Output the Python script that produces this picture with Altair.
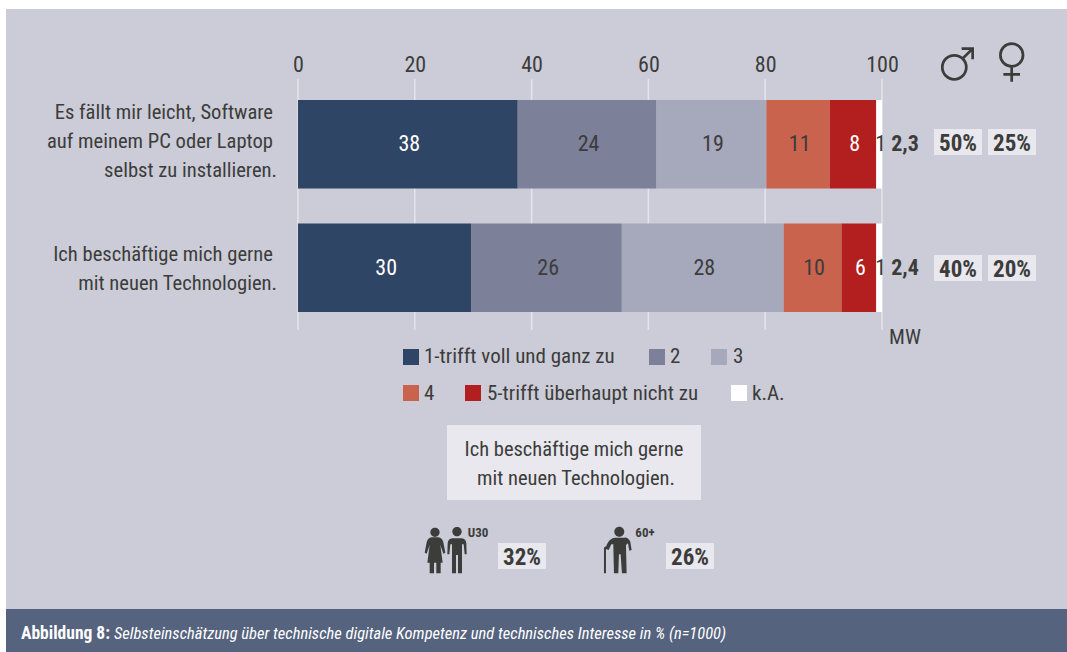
import altair as alt
import pandas as pd

# Survey answers per statement, in percent as published
statements = ["Software", "Technologien"]
levels = ["1-trifft voll und ganz zu", "2", "3", "4", "5-trifft überhaupt nicht zu", "k.A."]
software_values = [38, 24, 19, 11, 8, 1]
technology_values = [30, 26, 28, 10, 6, 1]
level_colors = ["#2f4565", "#7c8099", "#a6a8bb", "#c9634e", "#b31e1e", "#ffffff"]
label_colors = ["#ffffff", "#3c3c3b", "#3c3c3b", "#3c3c3b", "#ffffff", "#3c3c3b"]
axis_ticks = [0, 0.2, 0.4, 0.6, 0.8, 1.0]

FONT = "Roboto Condensed"
INK = "#3c3c3b"
PANEL = "#cbccd7"
BOX = "#e8e8ee"
CAPTION = "#55637e"
LEFT, TOP, PLOT_W, PLOT_H = 298, 79, 584, 251
W, H = 1067, 652

rows = []
for statement, values in zip(statements, [software_values, technology_values]):
    for rank, (level, value) in enumerate(zip(levels, values)):
        rows.append({"statement": statement, "level": level, "rank": rank,
                     "value": value, "ink": label_colors[rank]})
answers = pd.DataFrame(rows)

share_scale = alt.Scale(domain=[0, 1], nice=False)
y_enc = alt.Y("statement:N", sort=statements, axis=None,
              scale=alt.Scale(range=[21, 233], paddingInner=0.283, paddingOuter=0))


def box(x0, y0, x1, y1, color):
    """Plain rectangle given in canvas pixels."""
    return alt.Chart(pd.DataFrame({"k": [0]})).mark_rect(color=color).encode(
        x=alt.value(x0 - LEFT), x2=alt.value(x1 - LEFT),
        y=alt.value(y0 - TOP), y2=alt.value(y1 - TOP))


def note(text, x, y, size=20.6, align="center", weight="normal", color=INK, style="normal"):
    """Single line of text anchored in canvas pixels."""
    return alt.Chart(pd.DataFrame({"t": [text]})).mark_text(
        font=FONT, fontSize=size, align=align, baseline="middle",
        fontWeight=weight, fontStyle=style, color=color).encode(
        text="t:N", x=alt.value(x - LEFT), y=alt.value(y + 1 - TOP))


def glyph(path, x, y, scale=1 / 3, stroke=None, width=2.7):
    """Custom symbol; path units are scaled down to canvas pixels."""
    style = dict(shape=path, size=(2 * scale) ** 2, opacity=1)
    if stroke:
        style.update(filled=False, stroke=stroke, strokeWidth=width)
    else:
        style.update(filled=True, fill=INK, strokeWidth=0)
    return alt.Chart(pd.DataFrame({"k": [0]})).mark_point(**style).encode(
        x=alt.value(x - LEFT), y=alt.value(y - TOP))


def circle(cy, r):
    return f"M{-r},{cy} A{r},{r} 0 1,1 {r},{cy} A{r},{r} 0 1,1 {-r},{cy} Z "


MALE = circle(0, 36) + "M26,-27 L55,-56 M22,-56 L55,-56 L55,-24"
FEMALE = circle(0, 34) + "M0,34 L0,80 M-25,58 L25,58"
WOMAN = (circle(-58, 14) + "M-10,-43 L10,-43 Q22,-42 25,-28 L31,3 L25,6 L16,-20 L23,33 L17,33 "
         "L17,65 L4,65 L4,33 L-3,33 L-3,65 L-16,65 L-16,33 L-23,33 L-16,-20 L-25,6 L-31,3 "
         "L-25,-28 Q-22,-42 -10,-43 Z")
MAN = (circle(-60, 14) + "M-14,-40 L14,-40 Q27,-38 28,-25 L29,8 L23,8 L20,-22 L15,-22 L15,65 "
       "L3,65 L3,10 L-3,10 L-3,65 L-15,65 L-15,-22 L-20,-22 L-23,8 L-29,8 L-28,-25 Q-27,-38 -14,-40 Z")
ELDER = (circle(-60, 15) + "M-14,-42 Q-30,-40 -38,-20 L-40,-8 L-32,-5 L-24,-22 L-18,-22 L-16,65 "
         "L-3,65 L-1,8 L4,8 L8,65 L22,65 L20,-20 L26,-25 L30,-3 L37,-5 L33,-30 Q25,-45 14,-42 Z "
         "M-46,65 L-40,65 L-40,-10 Q-36,-12 -32,-8 L-29,-13 Q-38,-21 -46,-12 Z")

layers = [box(6, 9, W, 609, PANEL), box(6, 609, W, H, CAPTION)]

# Vertical guides sit behind the bars and carry the percent axis along the top
guides = pd.DataFrame({"tick": axis_ticks})
layers.append(alt.Chart(guides).mark_rule(color="#e4e4ea", strokeWidth=1.5).encode(
    x=alt.X("tick:Q", scale=share_scale,
            axis=alt.Axis(orient="top", values=axis_ticks, labelExpr="round(datum.value * 100)",
                          title=None, domain=False, ticks=False, grid=False, labelFont=FONT,
                          labelFontSize=22, labelColor=INK, labelPadding=3, labelFlush=False,
                          labelOverlap=False, zindex=1)),
    y=alt.value(0), y2=alt.value(PLOT_H)))

bars = alt.Chart(answers).mark_bar(opacity=1).encode(
    x=alt.X("value:Q", stack="normalize", scale=share_scale, title=None),
    y=y_enc,
    color=alt.Color("level:N", sort=levels, legend=None,
                    scale=alt.Scale(domain=levels, range=level_colors)),
    order=alt.Order("rank:Q"))
values = alt.Chart(answers).mark_text(font=FONT, fontSize=22, dx=1.5, baseline="middle").encode(
    x=alt.X("value:Q", stack="normalize", bandPosition=0.5, scale=share_scale, title=None),
    y=y_enc, text="value:Q",
    color=alt.Color("ink:N", scale=None),
    order=alt.Order("rank:Q"))
layers += [bars, values]

# Statement labels, right-aligned line by line
for text, y, right in [("Es fällt mir leicht, Software", 112, 273),
                       ("auf meinem PC oder Laptop", 141, 273),
                       ("selbst zu installieren.", 170, 277),
                       ("Ich beschäftige mich gerne", 254, 273),
                       ("mit neuen Technologien.", 283, 277)]:
    layers.append(note(text, right, y, align="right"))

# Mean values and gender shares
layers += [note("2,3", 905, 143, size=22, weight="bold"), note("2,4", 905, 267, size=22, weight="bold"),
           note("MW", 905, 337, size=21)]
for y0, male, female in [(129, "50%", "25%"), (255, "40%", "20%")]:
    layers += [box(934, y0, 982, y0 + 26, BOX), box(988, y0, 1036, y0 + 26, BOX),
               note(male, 958, y0 + 14, size=23, weight="bold"),
               note(female, 1012, y0 + 14, size=23, weight="bold")]
layers += [glyph(MALE, 954.3, 67.3, stroke=INK), glyph(FEMALE, 1011.7, 55, stroke=INK)]

# Hand-placed legend rows
for name, color, sx, tx in [(levels[0], level_colors[0], 411, 424), (levels[1], level_colors[1], 657, 670),
                            (levels[2], level_colors[2], 719, 733)]:
    layers.append(alt.Chart(pd.DataFrame({"k": [0]})).mark_square(size=256, color=color, opacity=1).encode(
        x=alt.value(sx - LEFT), y=alt.value(357 - TOP)))
    layers.append(note(name, tx, 356, size=21, align="left"))
for name, color, sx, tx in [(levels[3], level_colors[3], 411, 424), (levels[4], level_colors[4], 473, 487),
                            (levels[5], level_colors[5], 739, 752)]:
    layers.append(alt.Chart(pd.DataFrame({"k": [0]})).mark_square(size=256, color=color, opacity=1).encode(
        x=alt.value(sx - LEFT), y=alt.value(393 - TOP)))
    layers.append(note(name, tx, 393, size=21, align="left"))

# Highlighted statement with age-group shares
layers += [box(447, 425, 701, 500, BOX),
           note("Ich beschäftige mich gerne", 574, 449, size=20.5),
           note("mit neuen Technologien.", 576, 478, size=20.5),
           box(498, 543, 546, 569, BOX), note("32%", 522, 557, size=23, weight="bold"),
           box(666, 543, 714, 569, BOX), note("26%", 690, 557, size=23, weight="bold"),
           glyph(WOMAN, 435, 551.7), glyph(MAN, 457, 551.7), glyph(ELDER, 619.3, 551.7),
           note("U30", 478, 532, size=13, weight="bold"),
           note("60+", 645, 532, size=13, weight="bold")]

# Caption strip
layers += [note("Abbildung 8:", 21, 633, size=17.5, align="left", weight="bold", color="#ffffff"),
           note("Selbsteinschätzung über technische digitale Kompetenz und technisches Interesse in % (n=1000)",
                114, 633, size=16.5, align="left", color="#ffffff", style="italic")]

chart = alt.layer(*layers).resolve_scale(color="independent").properties(
    width=PLOT_W, height=PLOT_H, background="#ffffff",
    autosize=alt.AutoSizeParams(type="none"),
    padding={"left": LEFT, "top": TOP, "right": W - LEFT - PLOT_W, "bottom": H - TOP - PLOT_H},
).configure_view(stroke=None)

chart.save("out.html", embed_options={"renderer": "svg", "actions": False})
